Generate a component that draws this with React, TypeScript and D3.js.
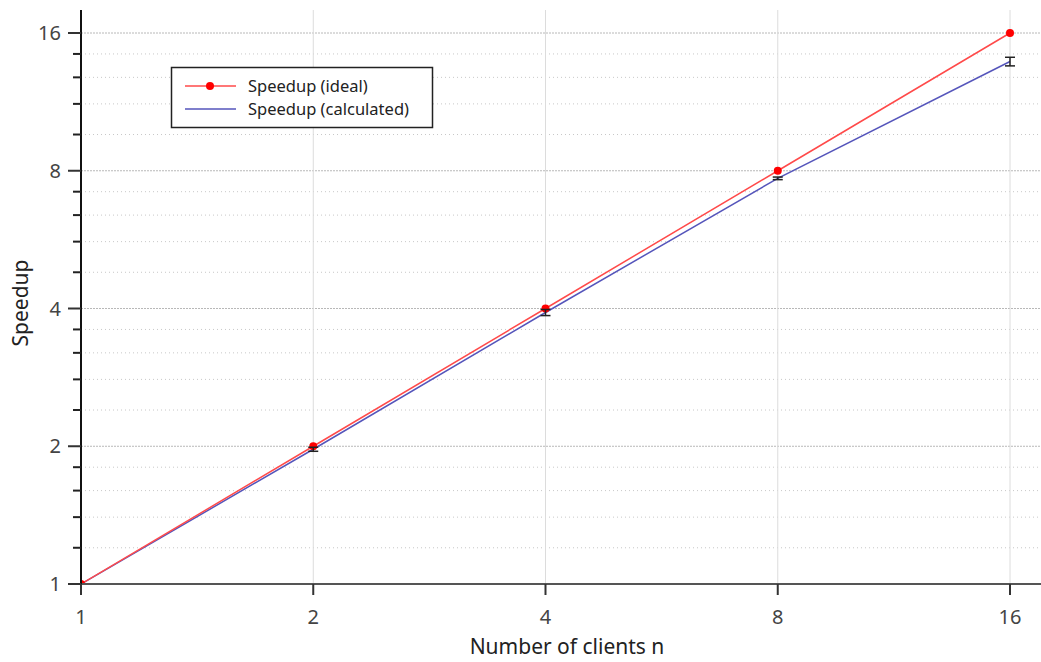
import React from 'react';
import * as d3 from 'd3';

const clients = [1, 2, 4, 8, 16];
const idealSpeedup = [1, 2, 4, 8, 16];
const calcSpeedup = [1, 1.97, 3.92, 7.7, 13.86];
const calcError = [0, 0.02, 0.06, 0.05, 0.3];
const majorTicks = [1, 2, 4, 8, 16];

const W = 1041;
const H = 662;
const margin = {left: 81, right: 0, top: 10, bottom: 78};
const font = '"Noto Sans", "Open Sans", sans-serif';

export default function App() {
    const x = d3.scaleLog().base(2).domain([1, 16]).range([81, 1010]);
    const y = d3.scaleLog().base(2).domain([1, 16]).range([584, 33]);

    // five linear sub-steps per octave
    const minorTicks: number[] = [];
    majorTicks.slice(0, -1).forEach(t => {
        for (let k = 1; k < 5; k++) minorTicks.push(t + (t * k) / 5);
    });

    const seriesLine = d3.line<number>()
        .x((_, i) => x(clients[i]))
        .y(d => y(d));

    const plotBottom = H - margin.bottom;

    return (
        <svg width={W} height={H} style={{position: 'absolute', left: 0, top: 0}}>
            <defs>
                <clipPath id="plot">
                    <rect x={margin.left} y={margin.top} width={W - margin.left} height={plotBottom - margin.top}/>
                </clipPath>
            </defs>
            <rect width={W} height={H} fill="#fff"/>

            {/* grid */}
            {minorTicks.map((t, i) => (
                <line key={'mg' + i} x1={margin.left} x2={W} y1={y(t)} y2={y(t)}
                      stroke="#c8c8c8" strokeWidth={1} strokeDasharray="1,3"/>
            ))}
            {majorTicks.slice(1).map((t, i) => (
                <line key={'yg' + i} x1={margin.left} x2={W} y1={y(t)} y2={y(t)}
                      stroke="#b8b8b8" strokeWidth={1} strokeDasharray="2,1"/>
            ))}
            {majorTicks.slice(1).map((t, i) => (
                <line key={'xg' + i} x1={x(t)} x2={x(t)} y1={margin.top} y2={plotBottom}
                      stroke="#dcdcdc" strokeWidth={1}/>
            ))}

            {/* series */}
            <g clipPath="url(#plot)">
                <path d={seriesLine(calcSpeedup) || ''} fill="none" stroke="#5555bb" strokeWidth={1.5}/>
                <path d={seriesLine(idealSpeedup) || ''} fill="none" stroke="#ff4a4a" strokeWidth={1.5}/>
                {idealSpeedup.map((d, i) => (
                    <circle key={'m' + i} cx={x(clients[i])} cy={y(d)} r={4} fill="#ff0000"/>
                ))}
                {calcSpeedup.map((d, i) => {
                    if (!calcError[i]) return null;
                    const cx = x(clients[i]);
                    const y0 = y(d - calcError[i]);
                    const y1 = y(d + calcError[i]);
                    return (
                        <g key={'e' + i} stroke="#222" strokeWidth={1.5}>
                            <line x1={cx} x2={cx} y1={y0} y2={y1}/>
                            <line x1={cx - 5} x2={cx + 5} y1={y0} y2={y0}/>
                            <line x1={cx - 5} x2={cx + 5} y1={y1} y2={y1}/>
                        </g>
                    );
                })}
            </g>

            {/* axes */}
            <line x1={68} x2={W} y1={plotBottom} y2={plotBottom} stroke="#555" strokeWidth={2}/>
            <line x1={margin.left} x2={margin.left} y1={margin.top} y2={595} stroke="#111" strokeWidth={2}/>
            {majorTicks.map((t, i) => (
                <g key={'yt' + i}>
                    <line x1={68} x2={margin.left} y1={y(t)} y2={y(t)} stroke="#333" strokeWidth={2}/>
                    <text x={61} y={y(t)} dy="0.36em" textAnchor="end" fontSize={20}
                          fontFamily={font} fill="#444">{t}</text>
                </g>
            ))}
            {minorTicks.map((t, i) => (
                <line key={'ym' + i} x1={73} x2={margin.left} y1={y(t)} y2={y(t)} stroke="#222" strokeWidth={2}/>
            ))}
            {majorTicks.map((t, i) => (
                <g key={'xt' + i}>
                    <line x1={x(t)} x2={x(t)} y1={plotBottom} y2={595} stroke="#333" strokeWidth={2}/>
                    <text x={x(t)} y={624} textAnchor="middle" fontSize={20}
                          fontFamily={font} fill="#444">{t}</text>
                </g>
            ))}

            <text x={567} y={654} textAnchor="middle" fontSize={21} fontFamily={font} fill="#222">
                Number of clients n
            </text>
            <text transform="translate(28,303) rotate(-90)" textAnchor="middle" fontSize={21}
                  fontFamily={font} fill="#222">Speedup</text>

            {/* legend */}
            <g>
                <rect x={171.5} y={67.5} width={261} height={60} fill="#fff" stroke="#222" strokeWidth={1.5}/>
                <line x1={185} x2={236} y1={86} y2={86} stroke="#ff4a4a" strokeWidth={1.5}/>
                <circle cx={210} cy={86} r={4} fill="#ff0000"/>
                <text x={248} y={86} dy="0.35em" fontSize={16.5} fontFamily={font} fill="#222">Speedup (ideal)</text>
                <line x1={185} x2={236} y1={109} y2={109} stroke="#5555bb" strokeWidth={1.5}/>
                <text x={248} y={109} dy="0.35em" fontSize={16.5} fontFamily={font} fill="#222">Speedup (calculated)</text>
            </g>
        </svg>
    );
}
